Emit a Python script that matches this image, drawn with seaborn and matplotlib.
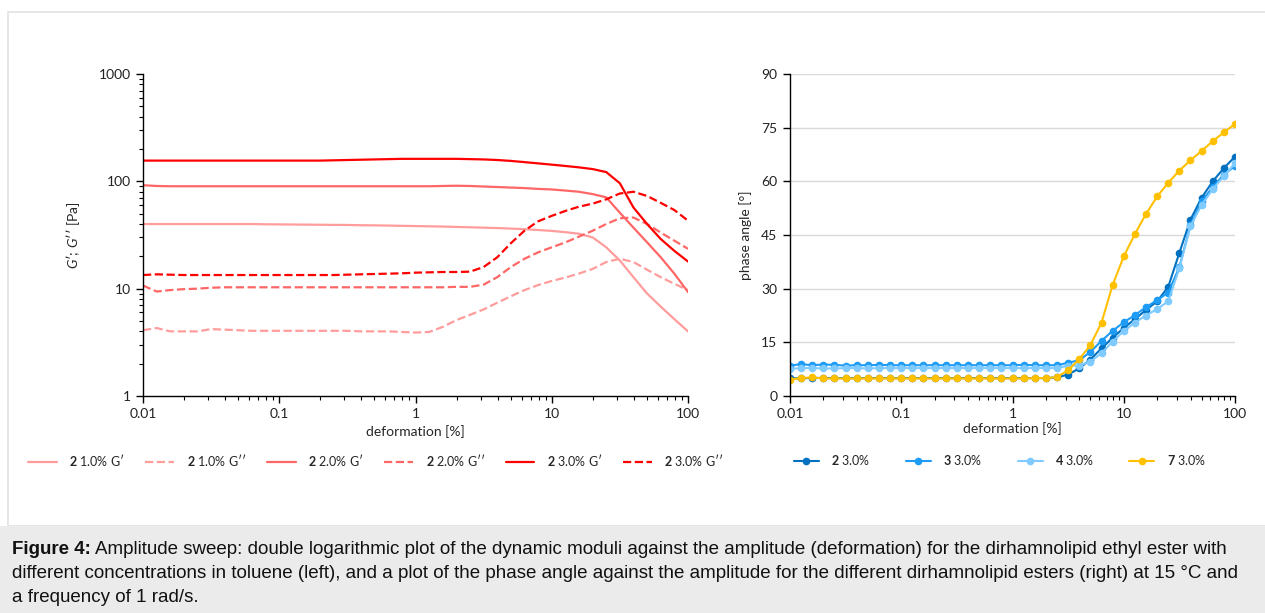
import numpy as np
import pandas as pd
import matplotlib
matplotlib.use("Agg")
import matplotlib.pyplot as plt
import seaborn as sns
from matplotlib.lines import Line2D
from matplotlib.patches import Rectangle
from matplotlib.ticker import LogLocator, NullFormatter, FixedLocator

# deformation grid [%], 10 points per decade
deformation = [0.01, 0.0126, 0.0158, 0.02, 0.0251, 0.0316, 0.0398, 0.0501, 0.0631, 0.0794,
               0.1, 0.126, 0.158, 0.2, 0.251, 0.316, 0.398, 0.501, 0.631, 0.794,
               1.0, 1.26, 1.58, 2.0, 2.51, 3.16, 3.98, 5.01, 6.31, 7.94,
               10.0, 12.6, 15.8, 20.0, 25.1, 31.6, 39.8, 50.1, 63.1, 79.4, 100.0]

# left chart: moduli of 2 in toluene [Pa]
g1_storage = [40, 40, 40, 40, 40, 40, 40, 40, 40, 39.8,
              39.7, 39.6, 39.5, 39.4, 39.3, 39.2, 39, 38.9, 38.7, 38.5,
              38.3, 38.1, 37.9, 37.6, 37.3, 37, 36.7, 36.3, 35.8, 35.2,
              34.5, 33.6, 32.5, 30, 24.3, 18.3, 12.8, 9, 6.8, 5.2, 4.0]
g1_loss = [4.1, 4.3, 4.0, 4.0, 4.0, 4.2, 4.15, 4.1, 4.05, 4.05,
           4.05, 4.05, 4.05, 4.05, 4.05, 4.05, 4.0, 4.0, 4.0, 3.95,
           3.9, 3.95, 4.4, 5.1, 5.7, 6.4, 7.4, 8.5, 9.7, 10.8,
           11.8, 12.7, 13.8, 15.3, 17.7, 19, 17.7, 15, 12.8, 11.1, 9.7]
g2_storage = [92, 90.5, 90, 90, 90, 90, 90, 90, 90, 90,
              90, 90, 90, 90, 90, 90, 90, 90, 90, 90,
              90, 90, 90.5, 91, 90.5, 89.5, 88.5, 87.5, 86.5, 85,
              84, 82, 80, 76, 71, 51, 37, 27, 19.6, 13.8, 9.3]
g2_loss = [10.7, 9.4, 9.7, 9.9, 10.0, 10.2, 10.3, 10.3, 10.3, 10.3,
           10.3, 10.3, 10.3, 10.3, 10.3, 10.3, 10.3, 10.3, 10.3, 10.3,
           10.3, 10.3, 10.3, 10.4, 10.4, 10.9, 12.8, 15.9, 19, 21.8,
           24.3, 27, 30.5, 34.7, 40, 45.3, 46, 40, 33.3, 28, 23.5]
g3_storage = [156, 156, 156, 156, 156, 156, 156, 156, 156, 156,
              156, 156, 156, 156, 157, 158, 159, 160, 161, 162,
              162, 162, 162, 162, 161, 160, 158, 155, 151, 147,
              143, 139, 135, 130, 122, 96, 57, 40, 29, 22.5, 17.9]
g3_loss = [13.4, 13.6, 13.5, 13.4, 13.4, 13.4, 13.4, 13.4, 13.4, 13.4,
           13.4, 13.4, 13.4, 13.4, 13.4, 13.5, 13.6, 13.7, 13.8, 13.9,
           14.1, 14.2, 14.3, 14.3, 14.4, 15.9, 19.6, 26.5, 34.7, 42.4,
           47.7, 53, 58, 62, 68, 77, 80, 73, 63, 54, 43]

# right chart: phase angle [deg] for the esters at 3.0 %
phase_2 = [5.0, 4.9, 5.1, 5.0, 5.0, 5.0, 5.0, 5.0, 5.0, 5.0,
           5.0, 5.0, 5.0, 5.0, 5.0, 5.0, 5.0, 5.0, 5.0, 5.0,
           5.0, 5.0, 5.0, 5.0, 5.2, 6.0, 7.7, 10.2, 13.3, 16.3,
           19.0, 21.5, 24.0, 26.5, 30.5, 40.0, 49.3, 55.4, 60.0, 63.7, 66.9]
phase_3 = [8.5, 8.9, 8.6, 8.8, 8.7, 8.5, 8.6, 8.6, 8.7, 8.6,
           8.6, 8.6, 8.6, 8.6, 8.6, 8.6, 8.6, 8.6, 8.6, 8.6,
           8.6, 8.7, 8.6, 8.6, 8.6, 9.3, 10.0, 12.3, 15.4, 18.2,
           20.6, 22.6, 24.8, 26.8, 28.9, 36.0, 47.8, 54.4, 58.4, 61.9, 64.3]
phase_4 = [7.6, 7.8, 7.8, 7.7, 7.7, 7.8, 7.8, 7.7, 7.8, 7.8,
           7.8, 7.8, 7.8, 7.8, 7.8, 7.8, 7.8, 7.8, 7.8, 7.8,
           7.8, 7.8, 7.8, 7.8, 7.8, 8.5, 8.5, 9.6, 12.0, 15.2,
           18.2, 20.5, 22.5, 24.3, 26.5, 35.7, 47.5, 53.4, 57.8, 61.5, 65.0]
phase_7 = [4.6, 5.0, 5.2, 4.9, 4.9, 4.9, 4.9, 4.9, 4.9, 4.9,
           4.9, 4.9, 4.9, 4.9, 4.9, 4.9, 4.9, 4.9, 4.9, 4.9,
           4.9, 4.9, 5.0, 5.0, 5.3, 7.2, 10.3, 14.2, 20.5, 31.0,
           39.0, 45.3, 50.8, 55.8, 59.6, 63.0, 65.9, 68.5, 71.2, 73.7, 76.0]

left_labels = [r"$\mathbf{2}$ 1.0% G′", r"$\mathbf{2}$ 1.0% G′′",
               r"$\mathbf{2}$ 2.0% G′", r"$\mathbf{2}$ 2.0% G′′",
               r"$\mathbf{2}$ 3.0% G′", r"$\mathbf{2}$ 3.0% G′′"]
right_labels = [r"$\mathbf{2}$ 3.0%", r"$\mathbf{3}$ 3.0%",
                r"$\mathbf{4}$ 3.0%", r"$\mathbf{7}$ 3.0%"]

sns.set_style("white")
plt.rcParams['font.family'] = ['Lato', 'DejaVu Sans']
plt.rcParams['mathtext.fontset'] = 'custom'
plt.rcParams['mathtext.rm'] = 'Lato'
plt.rcParams['mathtext.bf'] = 'Lato:bold'
plt.rcParams['mathtext.it'] = 'Lato:italic'

fig = plt.figure(figsize=(12.65, 6.13), dpi=100)
W, H = 1265, 613

# frame and caption band
fig.patches.append(Rectangle((8 / W, 87 / H), 1.0, (526 - 12) / H, transform=fig.transFigure,
                             facecolor='white', edgecolor='#E2E2E2', linewidth=1.2, zorder=-5))
fig.patches.append(Rectangle((0, 0), 1, 87 / H, transform=fig.transFigure,
                             facecolor='#EBEBEB', edgecolor='none', zorder=-5))

ax1 = fig.add_axes([143 / W, 1 - 396 / H, 545 / W, 322 / H])
ax2 = fig.add_axes([790 / W, 1 - 396 / H, 445 / W, 322 / H])

reds = ['#FF9C9C', '#FF9C9C', '#FF6666', '#FF6666', '#FF0000', '#FF0000']
styles = ['-', '--', '-', '--', '-', '--']
left_series = [g1_storage, g1_loss, g2_storage, g2_loss, g3_storage, g3_loss]
for vals, c, ls, lab in zip(left_series, reds, styles, left_labels):
    sns.lineplot(x=deformation, y=vals, ax=ax1, color=c, linestyle=ls, linewidth=1.6,
                 label=lab, legend=False)

ax1.set_xscale('log')
ax1.set_yscale('log')
ax1.set_xlim(0.01, 100)
ax1.set_ylim(1, 1000)
ax1.set_xticks([0.01, 0.1, 1, 10, 100])
ax1.set_xticklabels(['0.01', '0.1', '1', '10', '100'])
ax1.set_yticks([1, 10, 100, 1000])
ax1.set_yticklabels(['1', '10', '100', '1000'])
for axis in (ax1.xaxis, ax1.yaxis):
    axis.set_minor_locator(LogLocator(base=10, subs=np.arange(2, 10), numticks=20))
    axis.set_minor_formatter(NullFormatter())
ax1.set_xlabel('deformation [%]', fontsize=10, labelpad=3)
ax1.set_ylabel(r"$G$′; $G$′′ [Pa]", fontsize=10, labelpad=12)

blues = ['#0070C0', '#1E9BF5', '#7FCBFF', '#FFC000']
right_series = [phase_2, phase_3, phase_4, phase_7]
for vals, c, lab in zip(right_series, blues, right_labels):
    sns.lineplot(x=deformation, y=vals, ax=ax2, color=c, linewidth=1.5, marker='o',
                 markersize=5.5, markeredgewidth=0, label=lab, legend=False)

ax2.set_xscale('log')
ax2.set_xlim(0.01, 100)
ax2.set_ylim(0, 90)
ax2.set_xticks([0.01, 0.1, 1, 10, 100])
ax2.set_xticklabels(['0.01', '0.1', '1', '10', '100'])
ax2.xaxis.set_minor_locator(LogLocator(base=10, subs=np.arange(2, 10), numticks=20))
ax2.xaxis.set_minor_formatter(NullFormatter())
ax2.yaxis.set_major_locator(FixedLocator([0, 15, 30, 45, 60, 75, 90]))
ax2.grid(axis='y', color='#D9D9D9', linewidth=1)
ax2.set_axisbelow(True)
ax2.set_xlabel('deformation [%]', fontsize=10, labelpad=1)
ax2.set_ylabel('phase angle [°]', fontsize=10, labelpad=7)

for ax in (ax1, ax2):
    sns.despine(ax=ax)
    for s in ('left', 'bottom'):
        ax.spines[s].set_color('black')
        ax.spines[s].set_linewidth(1.0)
    ax.set_facecolor('none')
    ax.tick_params(which='major', direction='out', length=5, width=1, color='black',
                   labelsize=10, labelcolor='#222222', left=True, bottom=True, pad=4)
    ax.tick_params(which='minor', direction='out', length=3, width=0.8, color='black',
                   left=True, bottom=True)
ax2.tick_params(axis='y', which='minor', left=False)

h1 = [Line2D([], [], color=c, linestyle=ls, linewidth=1.6) for c, ls in zip(reds, styles)]
fig.legend(h1, left_labels, loc='center', bbox_to_anchor=(376 / W, 1 - 460 / H), ncol=6,
           frameon=False, fontsize=9, handlelength=2.3, columnspacing=1.65, handletextpad=1.0)
h2 = [Line2D([], [], color=c, linewidth=1.5, marker='o', markersize=5.5, markeredgewidth=0)
      for c in blues]
fig.legend(h2, right_labels, loc='center', bbox_to_anchor=(1000 / W, 1 - 460 / H), ncol=4,
           frameon=False, fontsize=9, handlelength=2.0, columnspacing=2.8, handletextpad=1.0)

# caption
cap_font = ['Liberation Sans', 'DejaVu Sans']
cap_size = 13.5
bold = fig.text(12 / W, 1 - 550 / H, 'Figure 4:', fontsize=cap_size, fontweight='bold',
                family=cap_font, va='center', color='#111111')
fig.canvas.draw()
bb = bold.get_window_extent(renderer=fig.canvas.get_renderer())
fig.text((bb.x1 + 4) / W, 1 - 550 / H,
         'Amplitude sweep: double logarithmic plot of the dynamic moduli against the amplitude '
         '(deformation) for the dirhamnolipid ethyl ester with',
         fontsize=cap_size, family=cap_font, va='center', color='#111111')
fig.text(12 / W, 1 - 574 / H,
         'different concentrations in toluene (left), and a plot of the phase angle against the '
         'amplitude for the different dirhamnolipid esters (right) at 15 °C and',
         fontsize=cap_size, family=cap_font, va='center', color='#111111')
fig.text(12 / W, 1 - 598 / H, 'a frequency of 1 rad/s.',
         fontsize=cap_size, family=cap_font, va='center', color='#111111')

fig.savefig('out.png', dpi=100)
